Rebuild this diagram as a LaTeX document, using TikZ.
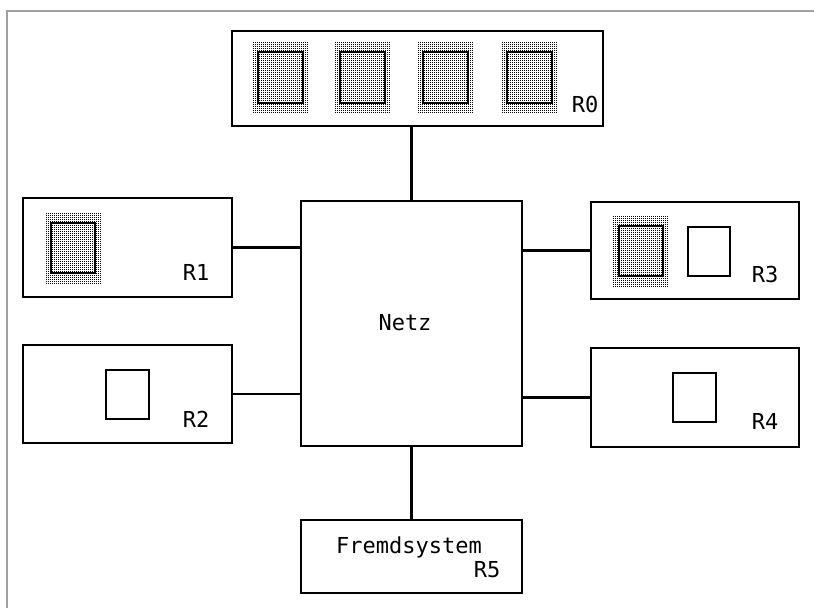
\documentclass[tikz,border=0pt]{standalone}
\usepackage{fontspec}
\setmonofont{DejaVu Sans Mono}
\newcommand\stipplebox[4]{%
  \foreach \si in {0,2,...,#3}{%
    \foreach \sj in {0,2,...,#4}{%
      \fill[black] (#1+\si,#2+\sj) rectangle ++(1,1);
    }%
  }%
}
\begin{document}
\begin{tikzpicture}[x=0.75pt,y=-0.75pt,
  box/.style={draw=black,line width=2.1pt,fill=white,rectangle,inner sep=0pt,outer sep=0pt},
  conn/.style={draw=black,line width=2.1pt},
  frameline/.style={draw={rgb,255:red,160;green,160;blue,160},line width=1.6pt},
  sqthick/.style={draw=black,line width=2.2pt},
  sqplain/.style={draw=black,line width=1.8pt},
  lbl/.style={font=\ttfamily\fontsize{16.5}{18}\selectfont,anchor=base,inner sep=0pt}]
\useasboundingbox[fill=white] (0,0) rectangle (814,608);
% gray frame
\draw[frameline] (7,608) -- (7,11) -- (814,11);
% boxes
\node[box,minimum width=371*0.75pt,minimum height=95*0.75pt] (r0) at (417.5,78.5) {};
\node[box,minimum width=221*0.75pt,minimum height=245*0.75pt] (netz) at (411.5,323.5) {};
\node[box,minimum width=209*0.75pt,minimum height=99*0.75pt] (r1) at (127.5,247.5) {};
\node[box,minimum width=209*0.75pt,minimum height=98*0.75pt] (r2) at (127.5,394) {};
\node[box,minimum width=208*0.75pt,minimum height=97*0.75pt] (r3) at (695,250.5) {};
\node[box,minimum width=208*0.75pt,minimum height=99*0.75pt] (r4) at (695,397.5) {};
\node[box,minimum width=221*0.75pt,minimum height=73*0.75pt] (r5) at (411.5,556.5) {};
% connectors
\draw[conn] (netz.north) -- (netz.north |- r0.south);
\draw[conn] (netz.south) -- (r5.north);
\draw[conn] (r1.east) -- (r1.east -| netz.west);
\draw[conn] (r2.east) -- (r2.east -| netz.west);
\draw[conn] (r3.west) -- (r3.west -| netz.east);
\draw[conn] (r4.west) -- (r4.west -| netz.east);
% stippled squares in R0
\foreach \x in {258,340,423,507}{
  \stipplebox{\x-5}{42}{54}{70}
  \draw[sqthick] (\x,52) rectangle (\x+45,103);
}
% R1
\stipplebox{46}{213}{54}{70}
\draw[sqthick] (51,223) rectangle (95,273);
% R2
\draw[sqplain] (106,370) rectangle (149,419);
% R3
\stipplebox{613}{216}{54}{70}
\draw[sqthick] (619,226) rectangle (663,276);
\draw[sqplain] (688,227) rectangle (730,276);
% R4
\draw[sqplain] (673,373) rectangle (716,422);
% labels
\node[lbl] (l0) at (585,112) {R0};
\node[lbl] (l1) at (196,280) {R1};
\node[lbl] (l2) at (196,427) {R2};
\node[lbl] (l3) at (765,282.5) {R3};
\node[lbl] (l4) at (765,429.5) {R4};
\node[lbl] (lnetz) at (405,330) {Netz};
\node[lbl] (lfremd) at (409,553) {Fremdsystem};
\node[lbl] (l5) at (487,577) {R5};
\end{tikzpicture}
\end{document}
